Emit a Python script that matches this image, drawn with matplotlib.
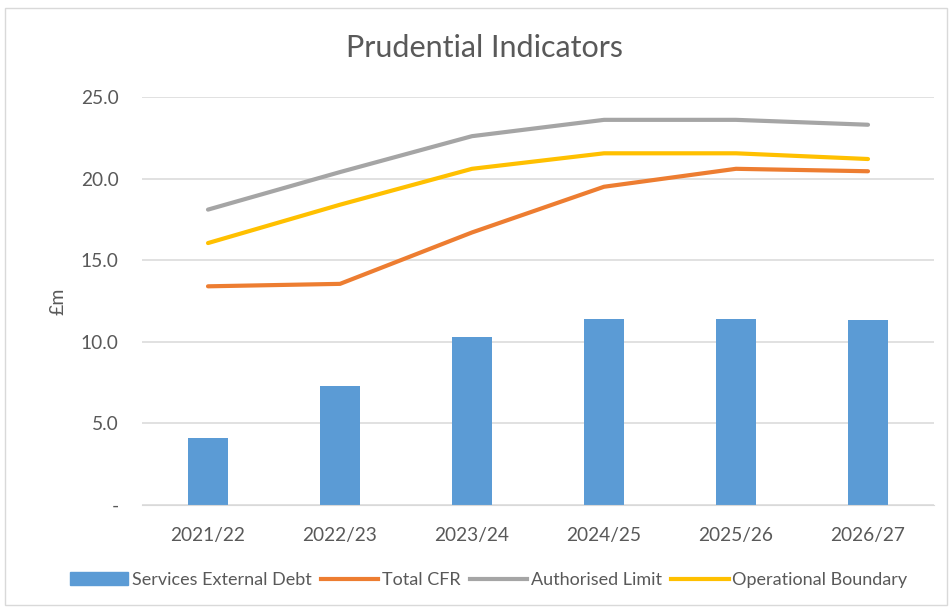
import matplotlib.pyplot as plt
import numpy as np
from matplotlib.lines import Line2D
from matplotlib.patches import Patch

plt.rcParams['font.family'] = ['Lato', 'DejaVu Sans']

years = ['2021/22', '2022/23', '2023/24', '2024/25', '2025/26', '2026/27']
external_debt = [4.1, 7.3, 10.3, 11.4, 11.4, 11.35]
total_cfr = [13.4, 13.55, 16.7, 19.5, 20.6, 20.45]
authorised_limit = [18.1, 20.4, 22.6, 23.6, 23.6, 23.3]
operational_boundary = [16.05, 18.4, 20.6, 21.55, 21.55, 21.2]

fig = plt.figure(figsize=(9.52, 6.15), dpi=100)
ax = fig.add_axes([142 / 952, 1 - 505 / 615, (934 - 142) / 952, (505 - 97) / 615])

x = np.arange(len(years))
ax.bar(x, external_debt, width=0.31, color='#5B9BD5', zorder=2)

ax.plot(x, total_cfr, color='#ED7D31', lw=3, solid_capstyle='round', zorder=3)
ax.plot(x, authorised_limit, color='#A5A5A5', lw=3, solid_capstyle='round', zorder=3)
ax.plot(x, operational_boundary, color='#FFC000', lw=3, solid_capstyle='round', zorder=3)

ax.set_xlim(-0.5, len(years) - 0.5)
ax.set_ylim(0, 25)
ax.set_yticks([0, 5, 10, 15, 20, 25])
ax.set_yticklabels(['-', '5.0', '10.0', '15.0', '20.0', '25.0'])
ax.set_xticks(x)
ax.set_xticklabels(years)
ax.tick_params(length=0, labelsize=13.8, colors='#595959', pad=16)
ax.tick_params(axis='y', pad=17)
ax.grid(axis='y', color='#D9D9D9', lw=1.1, zorder=0)
for s in ['top', 'right', 'left']:
    ax.spines[s].set_visible(False)
ax.spines['bottom'].set_color('#D9D9D9')
ax.set_ylabel('£m', fontsize=14, color='#595959', labelpad=10)

fig.text(485 / 952, 1 - 48 / 615, 'Prudential Indicators', ha='center', va='center',
         fontsize=22, color='#595959')

handles = [Patch(color='#5B9BD5'),
           Line2D([], [], color='#ED7D31', lw=3),
           Line2D([], [], color='#A5A5A5', lw=3),
           Line2D([], [], color='#FFC000', lw=3)]
labels = ['Services External Debt', 'Total CFR', 'Authorised Limit', 'Operational Boundary']
fig.legend(handles, labels, loc='center', bbox_to_anchor=(489 / 952, 1 - 580 / 615),
           ncol=4, frameon=False, fontsize=13, labelcolor='#595959',
           handlelength=3.2, handletextpad=0.2, columnspacing=0.5)

fig.add_artist(plt.Rectangle((5 / 952, 1 - 605 / 615), 942 / 952, 597 / 615,
                             transform=fig.transFigure, fill=False, ec='#D9D9D9', lw=1))

fig.savefig('out.png', dpi=100)
